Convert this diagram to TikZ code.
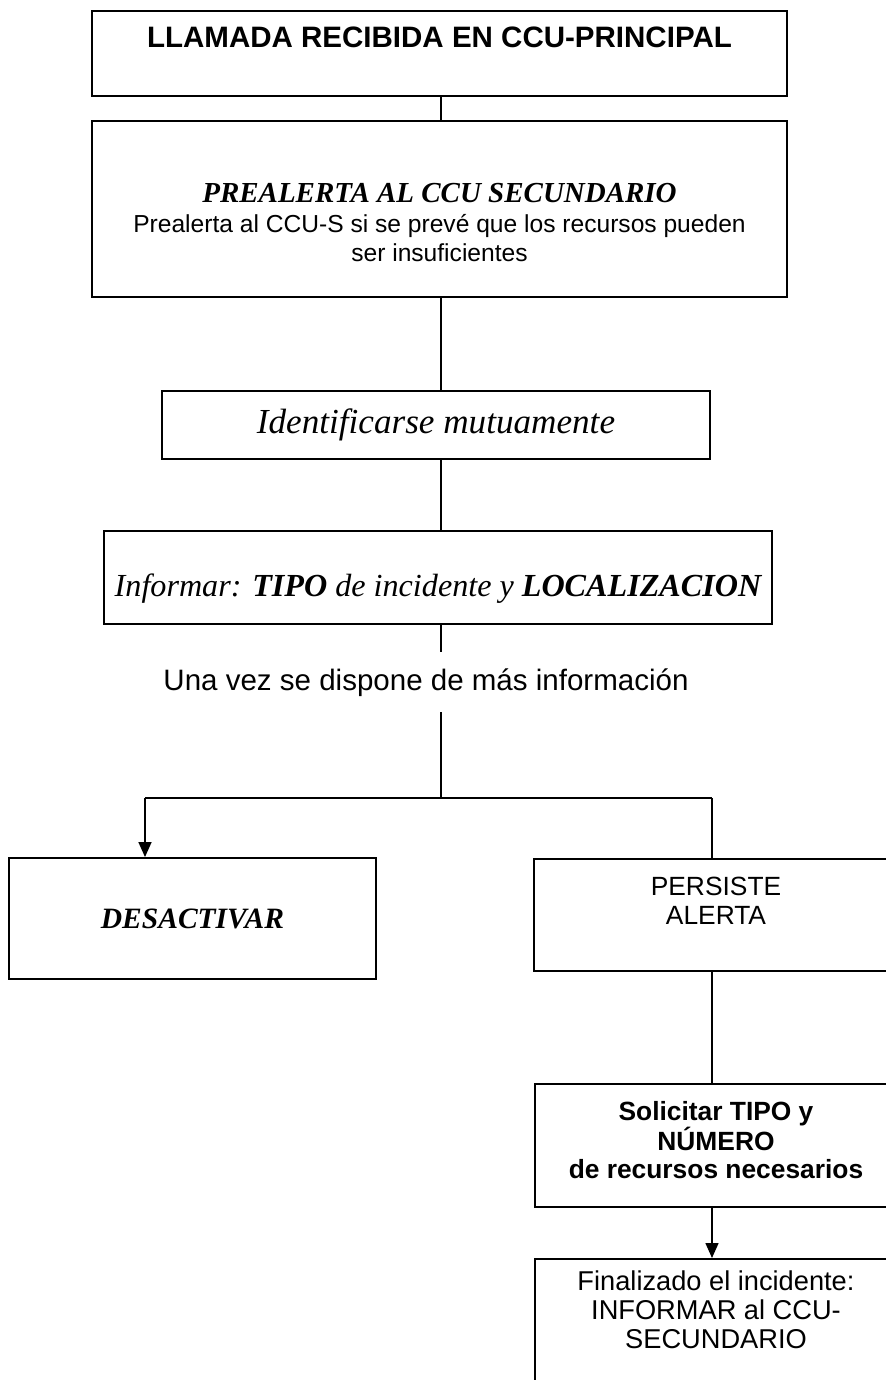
\documentclass[tikz,border=0pt]{standalone}
\usepackage{fontspec}
\setmainfont{Liberation Serif}
\setsansfont{Liberation Sans}
\usetikzlibrary{arrows.meta,positioning}

\begin{document}
\begin{tikzpicture}[x=0.02cm,y=-0.02cm,
    caja/.style={draw, line width=1.1pt, align=center, inner sep=0pt},
    linea/.style={line width=0.85pt},
    flecha/.style={linea, -{Triangle[length=0.3cm,width=0.26cm]}}]
        \useasboundingbox (0,0) rectangle (886,1380);
        \clip (0,0) rectangle (886,1380);

        % Cajas
        \node[caja, anchor=north, minimum width=13.9cm, text height=0.74cm, text depth=0.96cm,
              font=\sffamily\bfseries\fontsize{16.8pt}{20pt}\selectfont] (llamada) at (439.5,10)
              {LLAMADA RECIBIDA EN CCU-PRINCIPAL};
        \node[caja, anchor=north, minimum width=13.9cm, text height=2.82cm, text depth=0.70cm,
              font=\sffamily\fontsize{14pt}{17pt}\selectfont] (prealerta) at (439.5,120)
              {{\rmfamily\bfseries\itshape\fontsize{16.5pt}{17pt}\selectfont PREALERTA AL CCU SECUNDARIO}\\
               Prealerta al CCU-S si se prevé que los recursos pueden\\ ser insuficientes};
        \node[caja, minimum width=10.96cm, minimum height=1.36cm,
              font=\itshape\fontsize{20pt}{22pt}\selectfont] (identificar) at (436,425)
              {Identificarse mutuamente};
        \node[caja, anchor=north, minimum width=13.36cm, text height=1.32cm, text depth=0.54cm,
              font=\itshape\fontsize{18.3pt}{20pt}\selectfont] (informar) at (438,530)
              {Informar: \textbf{TIPO} de incidente y \textbf{LOCALIZACION}};
        \node[anchor=base, inner xsep=0pt, inner ysep=0.32cm,
              font=\sffamily\fontsize{16.8pt}{20pt}\selectfont] (masinfo) at (426,690)
              {Una vez se dispone de más información};
        \node[caja, minimum width=7.34cm, minimum height=2.42cm,
              font=\bfseries\itshape\fontsize{16.8pt}{20pt}\selectfont] (desactivar) at (192.5,918.5)
              {DESACTIVAR};
        \node[caja, anchor=north, minimum width=7.28cm, text height=1.32cm, text depth=0.92cm,
              font=\sffamily\fontsize{15pt}{17pt}\selectfont] (persiste) at (716,858)
              {PERSISTE\\ ALERTA};
        \node[caja, anchor=north, minimum width=7.26cm, text height=1.90cm, text depth=0.56cm,
              font=\sffamily\bfseries\fontsize{15pt}{16pt}\selectfont] (solicitar) at (716,1083)
              {Solicitar TIPO y\\ NÚMERO\\ de recursos necesarios};
        \node[caja, anchor=north, minimum width=7.26cm, text height=1.80cm, text depth=1.2cm,
              font=\sffamily\fontsize{15.5pt}{16.5pt}\selectfont] (finalizado) at (716,1258)
              {Finalizado el incidente:\\ INFORMAR al CCU-\\ SECUNDARIO};

        % Conectores
        \coordinate (eje) at (441,0);
        \coordinate (cruce) at (441,798);
        \coordinate (izq) at (145,798);
        \coordinate (der) at (712,798);
        \draw[linea] (llamada.south -| eje) -- (prealerta.north -| eje);
        \draw[linea] (prealerta.south -| eje) -- (identificar.north -| eje);
        \draw[linea] (identificar.south -| eje) -- (informar.north -| eje);
        \draw[linea] (informar.south -| eje) -- (masinfo.north -| eje);
        \draw[linea] (masinfo.south -| eje) -- (cruce);
        \draw[linea] (izq) -- (der);
        \draw[flecha] (izq) -- (izq |- desactivar.north);
        \draw[linea] (der) -- (der |- persiste.north);
        \draw[linea] (persiste.south -| der) -- (solicitar.north -| der);
        \draw[flecha] (solicitar.south -| der) -- (finalizado.north -| der);
\end{tikzpicture}
\end{document}
